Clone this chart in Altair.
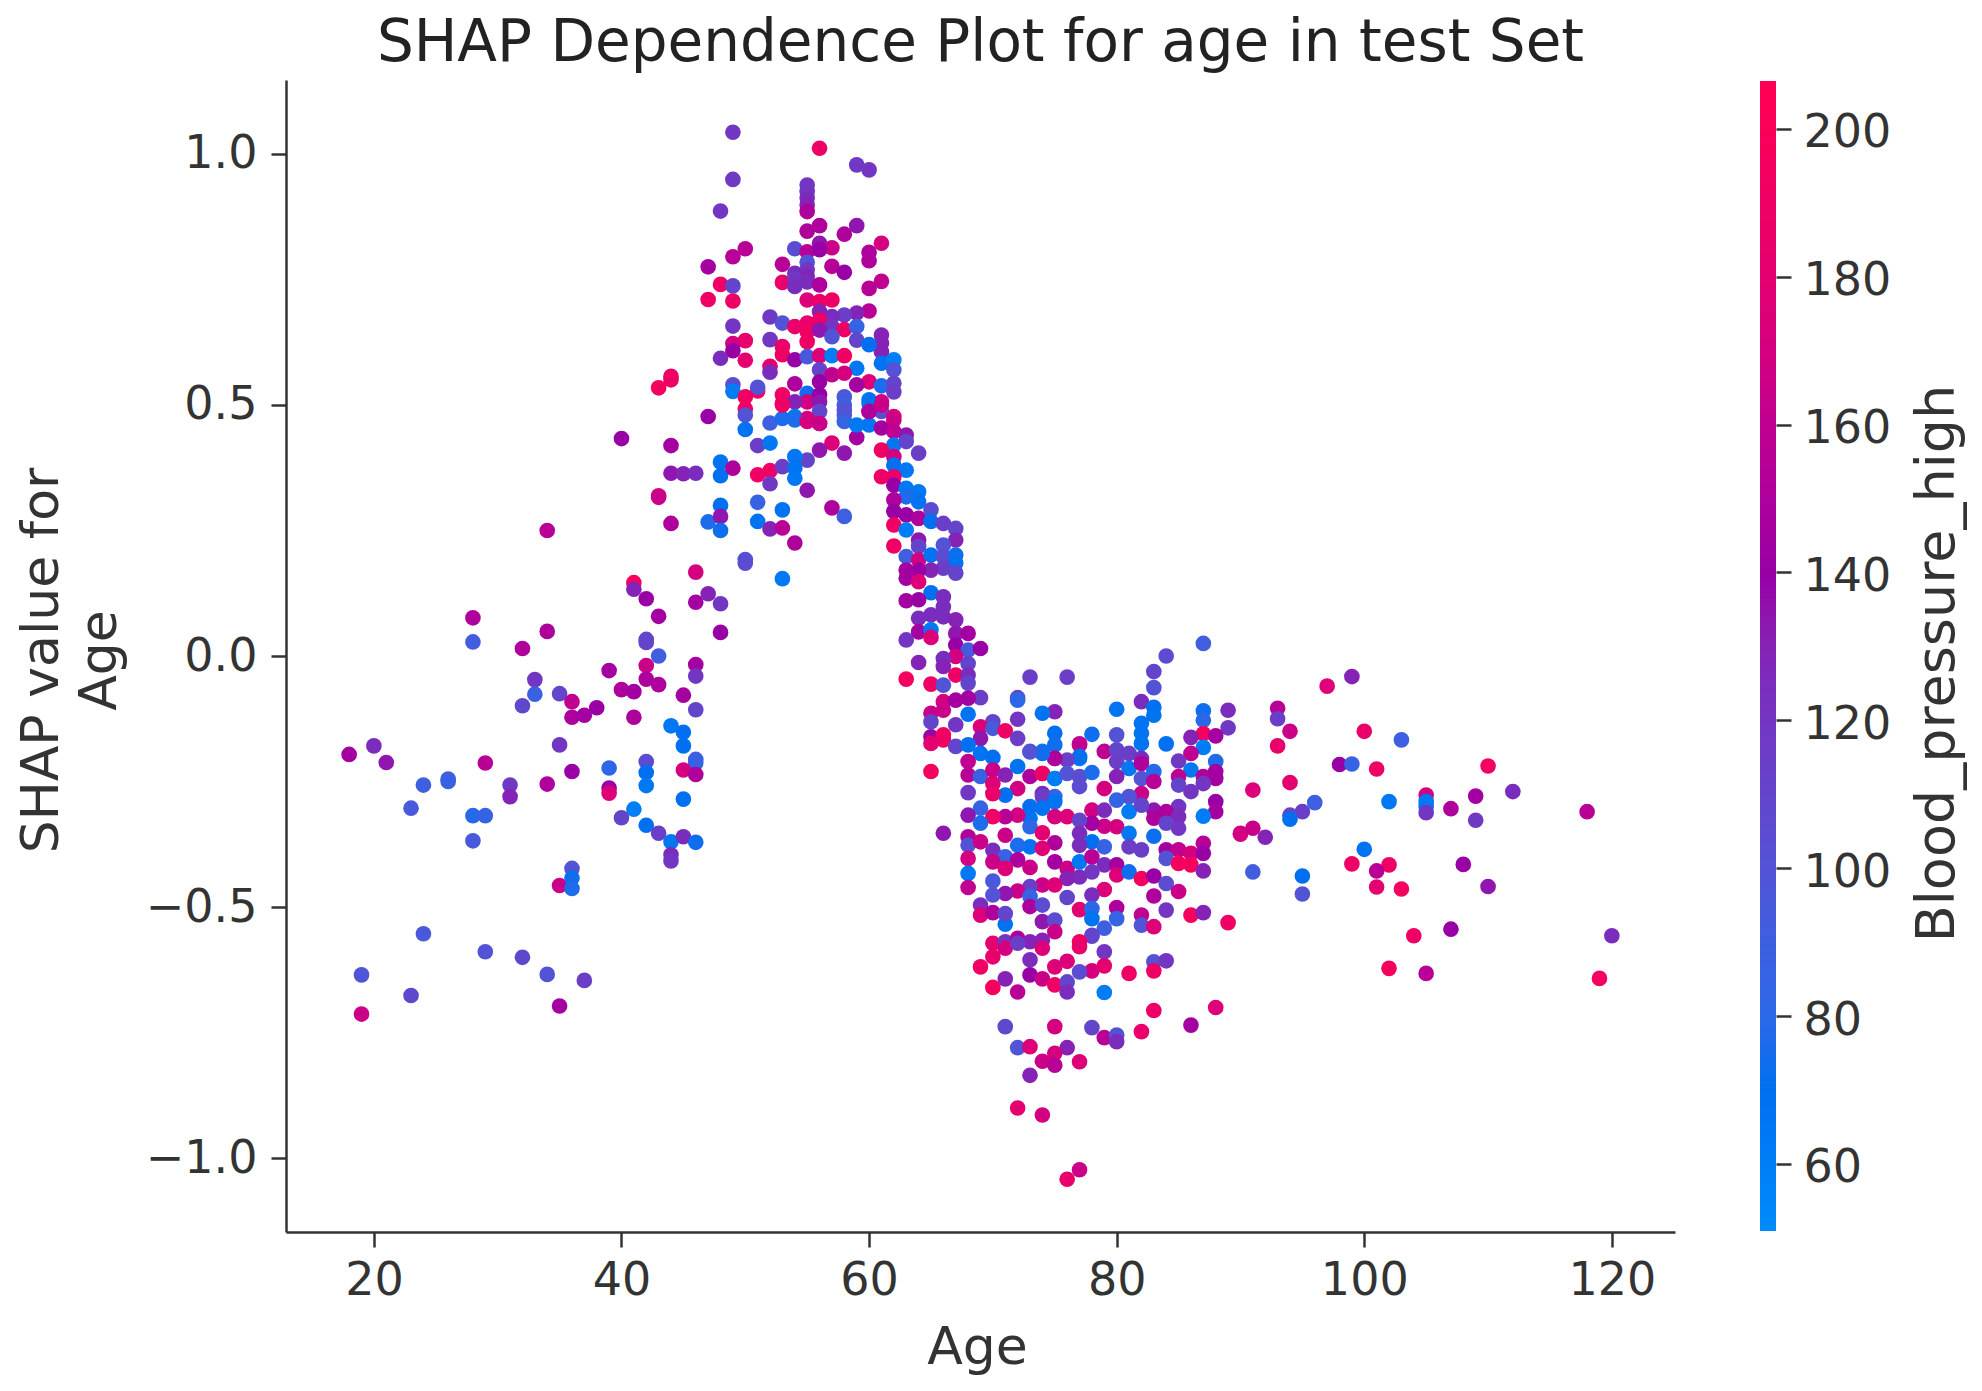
import altair as alt
import pandas as pd

# values, one block per region of the scatter
far_left_age = [19, 19, 18, 20, 21, 24, 26, 26, 23, 29,
                31, 31, 34, 36, 35, 28, 29, 28, 24, 29,
                32, 34, 37, 23, 35, 35, 36, 36, 36]
far_left_shap = [-.635, -.713, -.196, -.179, -.212, -.257, -.245, -.25, -.303, -.213,
                 -.257, -.28, -.255, -.23, -.177, -.318, -.318, -.368, -.553, -.589,
                 -.60, -.634, -.646, -.676, -.697, -.457, -.423, -.442, -.463]
far_left_bp = [98, 165, 145, 125, 135, 90, 92, 88, 95, 155,
               118, 130, 150, 140, 120, 78, 85, 95, 95, 100,
               108, 100, 115, 108, 145, 165, 100, 72, 75]

left_age = [32, 33, 33, 32, 35, 36, 36, 37, 38, 39,
            40, 41, 41, 42, 42, 43, 43, 42, 45, 46,
            46, 46, 44, 45, 45, 46, 46, 45, 46, 45,
            39, 42, 42, 42, 39, 39, 41, 40, 42, 43,
            44, 45, 46, 44, 44, 28, 28, 34, 34, 40,
            41, 41, 42, 43, 42, 46, 46, 47, 48, 48,
            43, 44, 44, 47, 44, 44, 45, 46, 43, 43,
            44, 47, 48, 48, 49, 48, 48, 48, 50, 50]
left_shap = [.015, -.047, -.076, -.099, -.075, -.091, -.122, -.118, -.103, -.029,
             -.067, -.071, -.122, -.019, -.046, -.057, 0, .027, -.078, -.017,
             -.04, -.107, -.139, -.152, -.179, -.206, -.213, -.227, -.236, -.285,
             -.223, -.21, -.232, -.258, -.263, -.273, -.305, -.322, -.337, -.353,
             -.37, -.36, -.371, -.396, -.408, .076, .028, .25, .049, .433,
             .146, .133, .114, .079, .033, .167, .107, .124, .104, .047,
             .534, .557, .55, .477, .419, .364, .363, .364, .319, .316,
             .264, .267, .386, .359, .374, .30, .278, .25, .192, .185]
left_bp = [150, 120, 88, 108, 110, 160, 150, 145, 140, 145,
           150, 145, 150, 165, 150, 150, 92, 110, 145, 145,
           120, 110, 65, 70, 70, 92, 85, 170, 150, 70,
           82, 105, 70, 65, 140, 175, 60, 110, 70, 115,
           65, 125, 72, 125, 120, 150, 92, 155, 150, 140,
           195, 130, 140, 145, 110, 170, 145, 130, 120, 140,
           195, 190, 190, 140, 145, 135, 130, 125, 175, 165,
           150, 75, 68, 70, 150, 70, 135, 72, 100, 105]

rise_age = [49, 49, 48, 50, 49, 47, 48, 49, 47, 49,
            49, 50, 49, 49, 48, 50, 49, 49, 50, 50,
            50, 50, 51, 51, 52, 51, 52, 51, 52, 52,
            51, 51, 52, 53, 53, 52, 52, 52, 52, 53,
            53, 53, 54, 55, 57, 58]
rise_shap = [1.043, .949, .886, .811, .795, .775, .74, .737, .71, .707,
             .657, .628, .622, .608, .593, .589, .54, .527, .516, .492,
             .48, .451, .528, .535, .464, .419, .424, .361, .369, .343,
             .306, .268, .253, .255, .154, .675, .63, .577, .565, .78,
             .744, .291, .225, .33, .295, .278]
rise_bp = [120, 118, 120, 155, 155, 145, 190, 110, 190, 190,
           120, 185, 170, 140, 125, 180, 105, 62, 190, 190,
           100, 68, 195, 100, 90, 115, 65, 190, 190, 118,
           85, 68, 130, 155, 65, 118, 120, 185, 125, 155,
           185, 68, 150, 135, 150, 90]

peak_age = [56, 59, 60, 55, 55, 55, 55, 55, 55, 56,
            58, 59, 54, 56, 55, 57, 56, 61, 60, 60,
            57, 58, 55, 55, 54, 55, 54, 55, 54, 56,
            61, 60, 55, 56, 57, 56, 60, 59, 58, 57,
            53, 54, 55, 56, 55, 57, 58, 59, 56, 57,
            59, 61, 61, 61, 53, 55, 60, 53, 54, 55,
            56, 57, 58, 56, 59, 61, 62, 62, 57, 58,
            56, 54, 60, 59, 61, 62, 62, 55, 55, 56,
            53, 53, 54, 56, 58, 58, 60, 61, 60, 61,
            62, 56, 58, 53, 54, 55]
peak_shap = [1.011, .978, .968, .938, .925, .912, .898, .885, .846, .857,
             .84, .857, .811, .822, .805, .813, .809, .822, .804, .787,
             .776, .764, .784, .769, .762, .756, .752, .745, .736, .739,
             .746, .732, .709, .706, .709, .686, .687, .683, .679, .676,
             .663, .656, .663, .669, .646, .656, .65, .656, .649, .636,
             .629, .639, .623, .606, .616, .626, .62, .6, .59, .596,
             .598, .598, .598, .57, .573, .583, .59, .57, .56, .563,
             .546, .542, .546, .54, .538, .543, .526, .523, .506, .52,
             .52, .503, .506, .506, .516, .5, .51, .506, .487, .487,
             .477, .487, .48, .473, .477, .473]
peak_bp = [190, 118, 120, 120, 120, 125, 130, 150, 150, 150,
           150, 135, 105, 135, 155, 165, 140, 170, 150, 150,
           155, 140, 100, 120, 125, 130, 120, 125, 125, 150,
           160, 155, 175, 185, 190, 130, 155, 130, 115, 125,
           100, 185, 185, 190, 190, 120, 190, 85, 135, 100,
           110, 130, 130, 130, 185, 190, 70, 190, 140, 95,
           175, 60, 190, 110, 65, 68, 60, 100, 160, 170,
           140, 150, 175, 145, 75, 110, 115, 72, 170, 140,
           190, 190, 130, 135, 95, 90, 68, 170, 160, 105,
           175, 110, 95, 75, 65, 170]

slope_age = [53, 56, 54, 55, 56, 57, 56, 55, 54, 53,
             54, 54, 58, 59, 58, 58, 59, 60, 60, 61,
             60, 62, 61, 62, 63, 62, 63, 64, 61, 62,
             62, 63, 61, 62, 62, 63, 64, 64, 63, 62,
             62, 63, 64, 65, 65, 66, 67, 67, 62, 63,
             62, 64, 64, 66, 63, 64, 65, 66, 67, 67,
             66, 67, 65, 64, 63, 63, 64, 65, 66, 63,
             64, 66, 64, 65, 66, 67, 64, 65, 65, 67,
             68, 63, 67, 68, 69, 67, 66, 64, 66, 68,
             67, 63, 65, 66, 68, 68, 73, 76, 72, 69,
             66, 67, 68, 72, 65, 66, 68, 75, 74, 72,
             70, 65, 67, 69, 70, 71, 75, 65, 66, 66,
             72, 75, 69, 65, 67, 68, 69, 70, 73, 74,
             75, 77, 77, 65, 68, 68, 69, 70, 71, 72,
             73, 74, 75, 70, 72, 68, 71, 74, 75, 70]
slope_shap = [.5, .463, .47, .467, .463, .424, .41, .39, .397, .377,
              .374, .354, .49, .435, .467, .404, .46, .46, .503, .5,
              .487, .47, .454, .447, .44, .42, .427, .404, .41, .397,
              .38, .37, .357, .357, .34, .334, .327, .307, .317, .311,
              .288, .281, .274, .291, .268, .264, .254, .231, .261, .251,
              .219, .231, .218, .221, .198, .191, .201, .198, .201, .185,
              .175, .165, .171, .171, .171, .155, .148, .126, .118, .11,
              .112, .098, .075, .082, .078, .072, .048, .052, .037, .045,
              .045, .032, .022, .012, .015, -.001, -.005, -.013, -.021, -.015,
              -.038, -.046, -.056, -.058, -.038, -.054, -.042, -.042, -.083, -.083,
              -.091, -.088, -.084, -.088, -.114, -.108, -.116, -.111, -.114, -.126,
              -.131, -.131, -.137, -.141, -.144, -.149, -.154, -.161, -.157, -.167,
              -.164, -.177, -.164, -.174, -.18, -.177, -.194, -.202, -.19, -.19,
              -.204, -.177, -.204, -.23, -.21, -.237, -.24, -.227, -.237, -.22,
              -.24, -.234, -.244, -.254, -.264, -.272, -.277, -.274, -.28, -.274]
slope_bp = [190, 175, 75, 170, 165, 175, 135, 110, 65, 115,
            68, 65, 100, 145, 85, 135, 65, 65, 68, 165,
            150, 165, 145, 160, 135, 65, 110, 115, 190, 170,
            70, 65, 190, 185, 140, 65, 65, 68, 75, 150,
            140, 140, 150, 105, 70, 115, 110, 130, 190, 62,
            190, 135, 110, 100, 90, 170, 68, 105, 72, 68,
            115, 110, 130, 140, 145, 145, 175, 70, 125, 145,
            140, 125, 125, 125, 125, 130, 145, 65, 175, 135,
            145, 120, 140, 95, 140, 170, 125, 130, 130, 110,
            190, 195, 190, 100, 125, 110, 115, 115, 110, 115,
            170, 145, 145, 80, 165, 165, 68, 130, 68, 120,
            110, 110, 120, 175, 95, 190, 70, 140, 195, 190,
            115, 72, 135, 180, 110, 70, 68, 70, 100, 75,
            150, 175, 65, 195, 160, 155, 85, 165, 130, 68,
            150, 190, 62, 175, 170, 118, 70, 125, 85, 185]

valley_age = [87, 84, 83, 83, 82, 83, 83, 80, 87, 89,
              87, 89, 87, 88, 86, 87, 84, 82, 82, 82,
              78, 80, 77, 79, 80, 81, 82, 77, 76, 75,
              74, 73, 86, 85, 88, 86, 80, 81, 82, 74,
              75, 76, 77, 78, 80, 82, 83, 83, 85, 87,
              88, 88, 85, 86, 87, 77, 79, 82, 81, 80,
              74, 75, 73, 74, 88, 88, 85, 83, 84, 78,
              79, 81, 82, 87, 85, 83, 76, 75, 73, 72,
              71, 70, 69, 68, 69, 73, 84, 85, 79, 80,
              78, 77, 81, 83, 66, 68, 71, 74, 77, 90,
              68, 69, 75, 78, 79, 77, 73, 72, 87, 81,
              82, 84, 85, 86, 87, 70, 74, 71, 68, 70,
              71, 72, 73, 75, 76, 77, 78, 79, 80, 84,
              85, 86, 87, 68, 80, 81, 82, 83, 77, 76,
              78, 84, 70, 68, 74, 73, 72, 71, 75, 79,
              76, 78, 70, 85, 83, 73, 69, 73, 74, 77,
              78, 80, 84, 86, 87, 89, 69, 70, 74, 75,
              78, 80, 82, 82, 83, 71, 79, 75, 78]
valley_shap = [.025, 0, -.031, -.063, -.091, -.102, -.118, -.106, -.109, -.108,
               -.128, -.143, -.155, -.159, -.162, -.182, -.175, -.134, -.154, -.174,
               -.156, -.157, -.175, -.19, -.187, -.194, -.204, -.2, -.207, -.204,
               -.194, -.191, -.194, -.209, -.21, -.227, -.21, -.224, -.214, -.234,
               -.244, -.234, -.24, -.232, -.24, -.244, -.23, -.25, -.24, -.24,
               -.244, -.23, -.257, -.27, -.254, -.26, -.264, -.274, -.28, -.287,
               -.28, -.29, -.3, -.303, -.29, -.31, -.3, -.307, -.31, -.307,
               -.307, -.31, -.297, -.319, -.32, -.323, -.32, -.32, -.323, -.317,
               -.32, -.32, -.303, -.317, -.333, -.34, -.333, -.343, -.339, -.34,
               -.333, -.327, -.353, -.359, -.353, -.36, -.357, -.352, -.353, -.353,
               -.377, -.37, -.372, -.37, -.38, -.377, -.38, -.377, -.373, -.38,
               -.386, -.386, -.386, -.393, -.393, -.387, -.383, -.4, -.403, -.41,
               -.423, -.406, -.421, -.41, -.423, -.41, -.4, -.416, -.416, -.403,
               -.413, -.416, -.428, -.433, -.436, -.43, -.443, -.438, -.44, -.443,
               -.43, -.453, -.448, -.461, -.456, -.459, -.468, -.473, -.456, -.465,
               -.481, -.476, -.476, -.469, -.478, -.479, -.496, -.499, -.496, -.505,
               -.503, -.501, -.506, -.516, -.511, -.531, -.516, -.511, -.529, -.526,
               -.523, -.523, -.516, -.536, -.539, -.534, -.542, -.549, -.556]
valley_bp = [92, 105, 110, 100, 125, 70, 68, 68, 72, 125,
             80, 118, 195, 145, 130, 62, 70, 68, 68, 68,
             72, 100, 160, 160, 110, 115, 125, 70, 115, 150,
             72, 100, 160, 118, 75, 65, 115, 65, 150, 190,
             62, 100, 105, 75, 130, 100, 78, 155, 160, 150,
             145, 145, 110, 120, 120, 105, 170, 165, 100, 85,
             115, 68, 70, 68, 140, 145, 120, 135, 150, 170,
             125, 62, 110, 62, 125, 150, 175, 170, 68, 170,
             155, 190, 85, 135, 75, 80, 110, 120, 165, 170,
             145, 110, 65, 72, 135, 150, 165, 180, 125, 165,
             100, 165, 150, 70, 85, 125, 68, 75, 155, 115,
             115, 145, 160, 170, 140, 125, 175, 85, 170, 165,
             175, 150, 165, 145, 165, 65, 155, 125, 145, 100,
             195, 195, 130, 65, 175, 72, 195, 140, 125, 130,
             120, 105, 95, 160, 165, 115, 165, 135, 175, 175,
             110, 125, 100, 165, 150, 85, 125, 150, 105, 180,
             80, 150, 120, 195, 130, 190, 175, 150, 135, 105,
             68, 85, 160, 100, 175, 68, 90, 165, 110]

bottom_age = [71, 78, 70, 71, 72, 73, 74, 71, 72, 74,
              77, 77, 79, 73, 70, 69, 75, 76, 78, 79,
              77, 83, 84, 81, 83, 73, 74, 75, 76, 76,
              71, 70, 72, 79, 83, 82, 88, 86, 75, 71,
              78, 79, 80, 80, 72, 73, 76, 75, 74, 75,
              77, 73, 72, 74, 77, 76]
bottom_shap = [-.513, -.558, -.572, -.569, -.562, -.569, -.566, -.582, -.572, -.582,
               -.569, -.579, -.589, -.605, -.599, -.619, -.619, -.608, -.627, -.617,
               -.629, -.609, -.607, -.632, -.627, -.635, -.643, -.655, -.649, -.669,
               -.643, -.66, -.669, -.67, -.706, -.748, -.7, -.735, -.738, -.738,
               -.74, -.76, -.755, -.768, -.78, -.778, -.78, -.791, -.807, -.815,
               -.808, -.835, -.9, -.914, -1.023, -1.042]
bottom_bp = [110, 110, 180, 120, 150, 130, 130, 170, 115, 175,
             190, 185, 120, 125, 185, 190, 175, 175, 170, 180,
             105, 100, 120, 190, 190, 140, 165, 190, 110, 125,
             130, 195, 155, 62, 190, 185, 175, 145, 170, 108,
             110, 155, 100, 125, 100, 175, 130, 170, 165, 155,
             175, 130, 180, 170, 165, 185]

right_age = [93, 93, 94, 93, 97, 99, 100, 103, 98, 99,
             101, 110, 91, 94, 96, 95, 94, 94, 102, 105,
             105, 105, 105, 107, 109, 112, 109, 118, 90, 91,
             92, 100, 99, 102, 101, 101, 103, 108, 110, 91,
             95, 95, 104, 107, 102, 105, 120, 119]
right_shap = [-.104, -.125, -.15, -.179, -.06, -.041, -.15, -.167, -.216, -.215,
              -.225, -.219, -.267, -.252, -.292, -.31, -.317, -.325, -.29, -.277,
              -.29, -.3, -.312, -.304, -.279, -.27, -.327, -.31, -.355, -.343,
              -.361, -.385, -.414, -.416, -.428, -.46, -.464, -.415, -.459, -.43,
              -.438, -.474, -.557, -.544, -.622, -.632, -.557, -.642]
right_bp = [155, 115, 165, 185, 175, 130, 185, 90, 140, 85,
            190, 195, 175, 180, 90, 115, 110, 70, 65, 170,
            65, 65, 120, 150, 145, 125, 118, 155, 170, 165,
            130, 68, 190, 190, 155, 180, 195, 140, 135, 92,
            70, 100, 190, 140, 195, 155, 125, 195]

bp_ticks = [60, 80, 100, 120, 140, 160, 180, 200]
bp_stops = [51, 70, 90, 110, 125, 140, 160, 180, 206.5]
bp_colors = ['#008bfb', '#0070f0', '#3d5fe0', '#6345cb', '#7a2dbd',
             '#9800a6', '#c00090', '#e4006f', '#ff0051']

df = pd.concat([
    pd.DataFrame({'age': far_left_age, 'shap': far_left_shap, 'bp': far_left_bp}),
    pd.DataFrame({'age': left_age, 'shap': left_shap, 'bp': left_bp}),
    pd.DataFrame({'age': rise_age, 'shap': rise_shap, 'bp': rise_bp}),
    pd.DataFrame({'age': peak_age, 'shap': peak_shap, 'bp': peak_bp}),
    pd.DataFrame({'age': slope_age, 'shap': slope_shap, 'bp': slope_bp}),
    pd.DataFrame({'age': valley_age, 'shap': valley_shap, 'bp': valley_bp}),
    pd.DataFrame({'age': bottom_age, 'shap': bottom_shap, 'bp': bottom_bp}),
    pd.DataFrame({'age': right_age, 'shap': right_shap, 'bp': right_bp}),
])

font = 'DejaVu Sans'
ink = '#333333'

dots = alt.Chart(df).mark_circle(size=245, opacity=1).encode(
    x=alt.X('age:Q', scale=alt.Scale(domain=[12.9, 125.1], nice=False),
            axis=alt.Axis(values=list(range(20, 121, 20)), title='Age',
                          titleAlign='center', titleBaseline='alphabetic',
                          titleX=691, titleY=131, labelPadding=11)),
    y=alt.Y('shap:Q', scale=alt.Scale(domain=[-1.147, 1.147], nice=False),
            axis=alt.Axis(values=[-1, -0.5, 0, 0.5, 1],
                          labelExpr="replace(format(datum.value, '.1f'), '-', '−')",
                          title=['SHAP value for', 'Age'], titleLineHeight=58,
                          titleFontSize=52,
                          titleAlign='center', titleBaseline='alphabetic',
                          titleX=-229, titleY=580, labelPadding=14)),
    color=alt.Color('bp:Q', scale=alt.Scale(domain=bp_stops, range=bp_colors),
                    legend=alt.Legend(orient='none', legendX=1474, legendY=1,
                                      gradientLength=1150, gradientThickness=16,
                                      title='', labelOpacity=0, values=bp_ticks)),
)

# second y scale so the colour bar gets ticks and labels like a matplotlib colorbar
bp_axis = alt.Chart(pd.DataFrame({'bp': bp_ticks})).mark_point(opacity=0).encode(
    y=alt.Y('bp:Q', scale=alt.Scale(domain=[50.8, 206.6], nice=False),
            axis=alt.Axis(orient='right', values=bp_ticks, offset=101, domain=False,
                          title='Blood_pressure_high', titleAngle=270, titleFontSize=54,
                          titleAlign='center', titleBaseline='alphabetic',
                          titleX=177, titleY=583, labelPadding=12, labelOffset=4)),
)

chart = alt.layer(dots, bp_axis).resolve_scale(y='independent').properties(
    width=1389,
    height=1152,
    padding={'left': 278, 'top': 72, 'right': 295, 'bottom': 145},
    autosize=alt.AutoSizeParams(type='none'),
    title=alt.TitleParams('SHAP Dependence Plot for age in test Set', fontSize=58,
                          font=font, fontWeight='normal', color='#222222',
                          anchor='middle', offset=7),
).configure_view(strokeWidth=0).configure_axis(
    grid=False,
    domainColor=ink,
    domainWidth=2.5,
    tickColor=ink,
    tickWidth=2.5,
    tickSize=15,
    labelColor=ink,
    labelFont=font,
    labelFontSize=46,
    titleColor=ink,
    titleFont=font,
    titleFontSize=52,
    titleFontWeight='normal',
)

chart.save("out.html", embed_options={"renderer": "svg", "actions": False})
